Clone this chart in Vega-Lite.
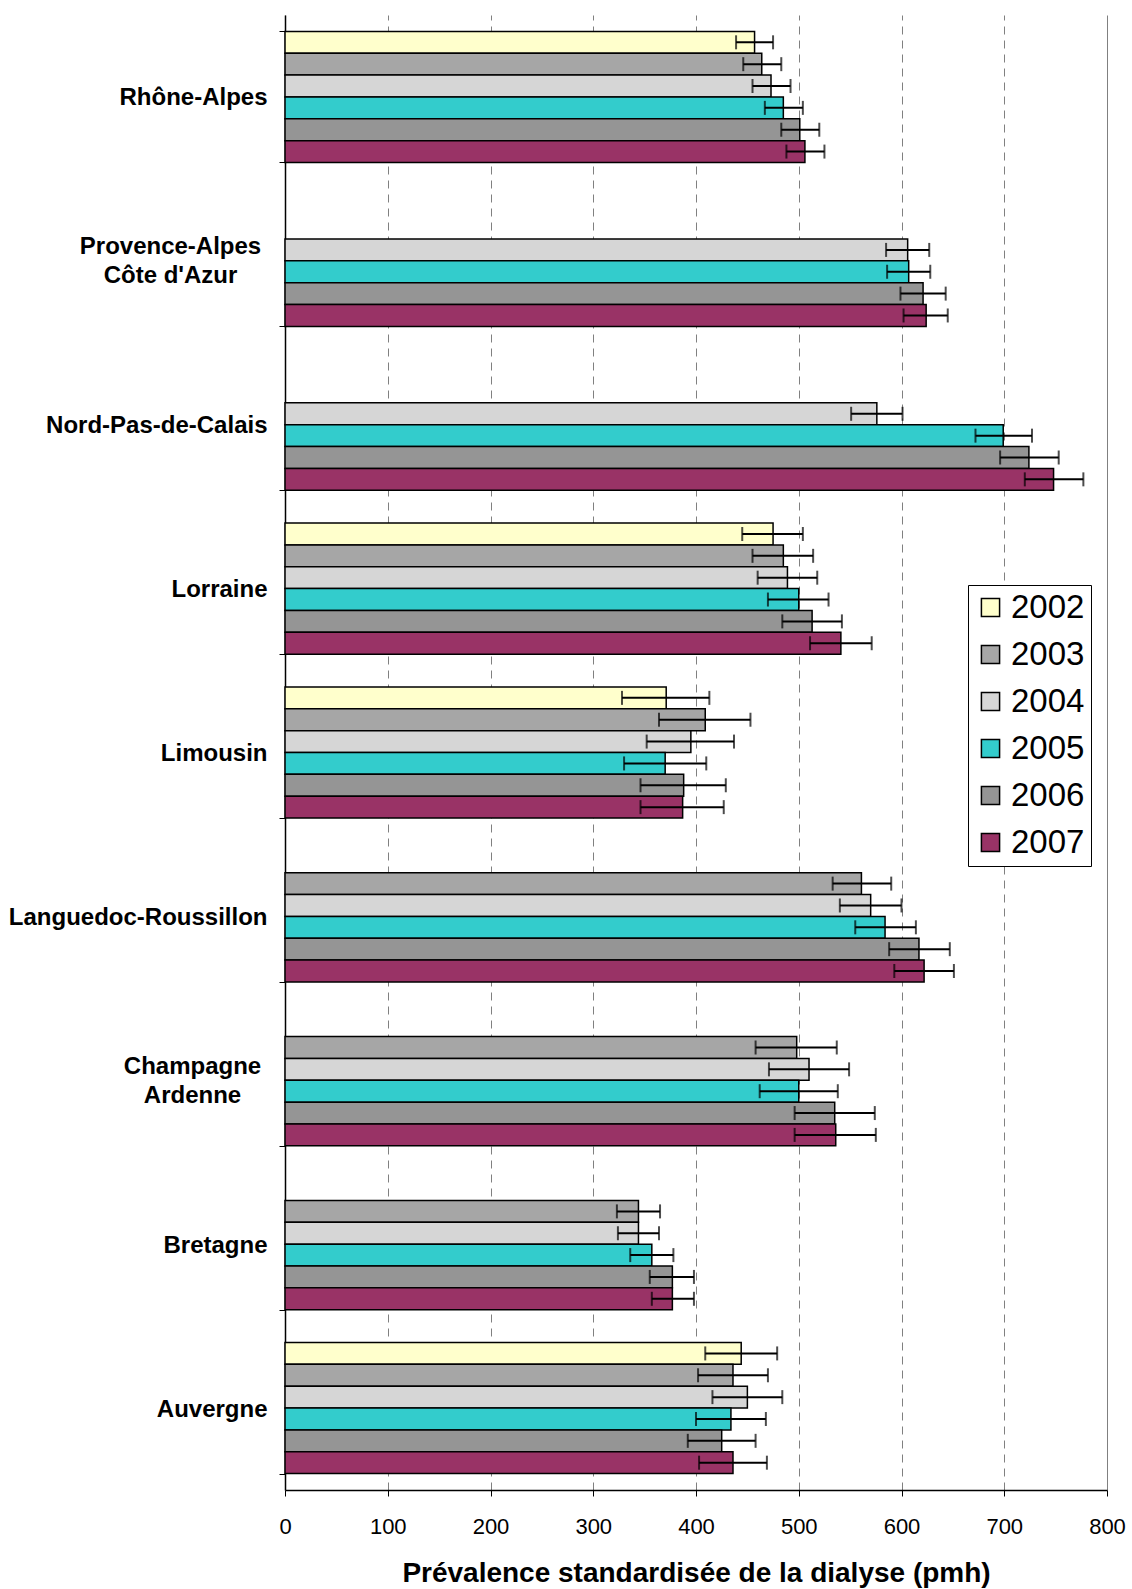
{
  "$schema": "https://vega.github.io/schema/vega-lite/v6.json",
  "width": 822,
  "height": 1475,
  "autosize": {"type": "none"},
  "padding": {"left": 285, "top": 15, "right": 25, "bottom": 99},
  "background": "white",
  "config": {
    "font": "Liberation Sans",
    "view": {"stroke": null}
  },
  "data": {
    "values": [
      {"region": "Rhône-Alpes", "year": "2002", "value": 457, "lo": 439, "hi": 475},
      {"region": "Rhône-Alpes", "year": "2003", "value": 464, "lo": 446, "hi": 483},
      {"region": "Rhône-Alpes", "year": "2004", "value": 473, "lo": 455, "hi": 492},
      {"region": "Rhône-Alpes", "year": "2005", "value": 485, "lo": 467, "hi": 504},
      {"region": "Rhône-Alpes", "year": "2006", "value": 501, "lo": 483, "hi": 520},
      {"region": "Rhône-Alpes", "year": "2007", "value": 506, "lo": 488, "hi": 525},
      {"region": "Provence-Alpes Côte d'Azur", "year": "2004", "value": 606, "lo": 585, "hi": 627},
      {"region": "Provence-Alpes Côte d'Azur", "year": "2005", "value": 607, "lo": 586, "hi": 628},
      {"region": "Provence-Alpes Côte d'Azur", "year": "2006", "value": 621, "lo": 599, "hi": 643},
      {"region": "Provence-Alpes Côte d'Azur", "year": "2007", "value": 624, "lo": 602, "hi": 645},
      {"region": "Nord-Pas-de-Calais", "year": "2004", "value": 576, "lo": 551, "hi": 601},
      {"region": "Nord-Pas-de-Calais", "year": "2005", "value": 699, "lo": 672, "hi": 727},
      {"region": "Nord-Pas-de-Calais", "year": "2006", "value": 724, "lo": 696, "hi": 753},
      {"region": "Nord-Pas-de-Calais", "year": "2007", "value": 748, "lo": 720, "hi": 777},
      {"region": "Lorraine", "year": "2002", "value": 475, "lo": 445, "hi": 504},
      {"region": "Lorraine", "year": "2003", "value": 485, "lo": 455, "hi": 514},
      {"region": "Lorraine", "year": "2004", "value": 489, "lo": 460, "hi": 518},
      {"region": "Lorraine", "year": "2005", "value": 500, "lo": 470, "hi": 529},
      {"region": "Lorraine", "year": "2006", "value": 513, "lo": 484, "hi": 542},
      {"region": "Lorraine", "year": "2007", "value": 541, "lo": 511, "hi": 571},
      {"region": "Limousin", "year": "2002", "value": 371, "lo": 328, "hi": 413},
      {"region": "Limousin", "year": "2003", "value": 409, "lo": 364, "hi": 453},
      {"region": "Limousin", "year": "2004", "value": 395, "lo": 352, "hi": 437},
      {"region": "Limousin", "year": "2005", "value": 370, "lo": 330, "hi": 410},
      {"region": "Limousin", "year": "2006", "value": 388, "lo": 346, "hi": 429},
      {"region": "Limousin", "year": "2007", "value": 387, "lo": 346, "hi": 427},
      {"region": "Languedoc-Roussillon", "year": "2003", "value": 561, "lo": 533, "hi": 590},
      {"region": "Languedoc-Roussillon", "year": "2004", "value": 570, "lo": 540, "hi": 600},
      {"region": "Languedoc-Roussillon", "year": "2005", "value": 584, "lo": 555, "hi": 614},
      {"region": "Languedoc-Roussillon", "year": "2006", "value": 617, "lo": 588, "hi": 647},
      {"region": "Languedoc-Roussillon", "year": "2007", "value": 622, "lo": 593, "hi": 651},
      {"region": "Champagne Ardenne", "year": "2003", "value": 498, "lo": 458, "hi": 537},
      {"region": "Champagne Ardenne", "year": "2004", "value": 510, "lo": 471, "hi": 549},
      {"region": "Champagne Ardenne", "year": "2005", "value": 500, "lo": 462, "hi": 538},
      {"region": "Champagne Ardenne", "year": "2006", "value": 535, "lo": 496, "hi": 574},
      {"region": "Champagne Ardenne", "year": "2007", "value": 536, "lo": 496, "hi": 575},
      {"region": "Bretagne", "year": "2003", "value": 344, "lo": 323, "hi": 365},
      {"region": "Bretagne", "year": "2004", "value": 344, "lo": 324, "hi": 364},
      {"region": "Bretagne", "year": "2005", "value": 357, "lo": 336, "hi": 378},
      {"region": "Bretagne", "year": "2006", "value": 377, "lo": 355, "hi": 398},
      {"region": "Bretagne", "year": "2007", "value": 377, "lo": 357, "hi": 398},
      {"region": "Auvergne", "year": "2002", "value": 444, "lo": 409, "hi": 479},
      {"region": "Auvergne", "year": "2003", "value": 436, "lo": 402, "hi": 470},
      {"region": "Auvergne", "year": "2004", "value": 450, "lo": 416, "hi": 484},
      {"region": "Auvergne", "year": "2005", "value": 434, "lo": 400, "hi": 468},
      {"region": "Auvergne", "year": "2006", "value": 425, "lo": 392, "hi": 458},
      {"region": "Auvergne", "year": "2007", "value": 436, "lo": 403, "hi": 469}
    ]
  },
  "encoding": {
    "y": {
      "field": "region",
      "type": "nominal",
      "sort": ["Rhône-Alpes", "Provence-Alpes Côte d'Azur", "Nord-Pas-de-Calais", "Lorraine", "Limousin", "Languedoc-Roussillon", "Champagne Ardenne", "Bretagne", "Auvergne"],
      "scale": {"paddingInner": 0.2, "paddingOuter": 0.1},
      "axis": {
        "title": null,
        "domainColor": "black",
        "domainWidth": 1.5,
        "tickColor": "black",
        "tickWidth": 1,
        "tickSize": 6,
        "tickBand": "extent",
        "grid": false,
        "labelFont": "Liberation Sans",
        "labelFontWeight": "bold",
        "labelFontSize": 24,
        "labelColor": "black",
        "labelLineHeight": 29,
        "labelLimit": 400,
        "labelExpr": "datum.value == \"Provence-Alpes Côte d'Azur\" ? [\"Provence-Alpes\", \"Côte d'Azur\"] : datum.value == \"Champagne Ardenne\" ? [\"Champagne\", \"Ardenne\"] : datum.value",
        "labelAlign": {"condition": {"test": "datum.value == \"Provence-Alpes Côte d'Azur\" || datum.value == \"Champagne Ardenne\"", "value": "center"}, "value": "right"},
        "labelOffset": {"condition": {"test": "datum.value == \"Provence-Alpes Côte d'Azur\" || datum.value == \"Champagne Ardenne\"", "value": -14}, "value": 1},
        "labelPadding": {"condition": [
          {"test": "datum.value == \"Provence-Alpes Côte d'Azur\"", "value": 109},
          {"test": "datum.value == \"Champagne Ardenne\"", "value": 87}
        ], "value": 12}
      }
    },
    "yOffset": {
      "field": "year",
      "type": "nominal",
      "scale": {"domain": ["2002", "2003", "2004", "2005", "2006", "2007"], "paddingInner": 0, "paddingOuter": 0}
    }
  },
  "layer": [
    {
      "mark": {"type": "bar", "stroke": "black", "strokeWidth": 1.5},
      "encoding": {
        "x": {
          "field": "value",
          "type": "quantitative",
          "scale": {"domain": [0, 800], "nice": false},
          "axis": {
            "title": "Prévalence standardisée de la dialyse (pmh)",
            "values": [0, 100, 200, 300, 400, 500, 600, 700, 800],
            "grid": true,
            "gridColor": "#808080",
            "gridWidth": 1,
            "gridDash": {"condition": {"test": "datum.value == 800", "value": []}, "value": [8, 6]},
            "domainColor": "black",
            "domainWidth": 1.5,
            "tickColor": "black",
            "tickSize": 6,
            "labelFont": "Liberation Sans",
            "labelFontSize": 22,
            "labelColor": "black",
            "labelPadding": 20,
            "labelFlush": false,
            "titleFont": "Liberation Sans",
            "titleFontSize": 28,
            "titleFontWeight": "bold",
            "titleColor": "black",
            "titlePadding": 22
          }
        },
        "color": {
          "field": "year",
          "type": "nominal",
          "scale": {
            "domain": ["2002", "2003", "2004", "2005", "2006", "2007"],
            "range": ["#FFFFCC", "#A6A6A6", "#D6D6D6", "#33CCCC", "#959595", "#993366"]
          },
          "legend": {
            "title": null,
            "orient": "none",
            "legendX": 683,
            "legendY": 570,
            "direction": "vertical",
            "symbolType": "square",
            "symbolSize": 330,
            "symbolStrokeColor": "black",
            "symbolStrokeWidth": 1.5,
            "symbolOpacity": 1,
            "labelFont": "Liberation Sans",
            "labelFontSize": 33,
            "labelColor": "black",
            "labelOffset": 4,
            "rowPadding": 13,
            "padding": 6,
            "strokeColor": "black",
            "fillColor": "white"
          }
        }
      }
    },
    {
      "mark": {"type": "rule", "color": "black", "strokeWidth": 2},
      "encoding": {
        "x": {"field": "lo", "type": "quantitative"},
        "x2": {"field": "hi"}
      }
    },
    {
      "mark": {"type": "tick", "color": "black", "thickness": 2, "size": 14, "orient": "vertical"},
      "encoding": {
        "x": {"field": "lo", "type": "quantitative"}
      }
    },
    {
      "mark": {"type": "tick", "color": "black", "thickness": 2, "size": 14, "orient": "vertical"},
      "encoding": {
        "x": {"field": "hi", "type": "quantitative"}
      }
    }
  ]
}
